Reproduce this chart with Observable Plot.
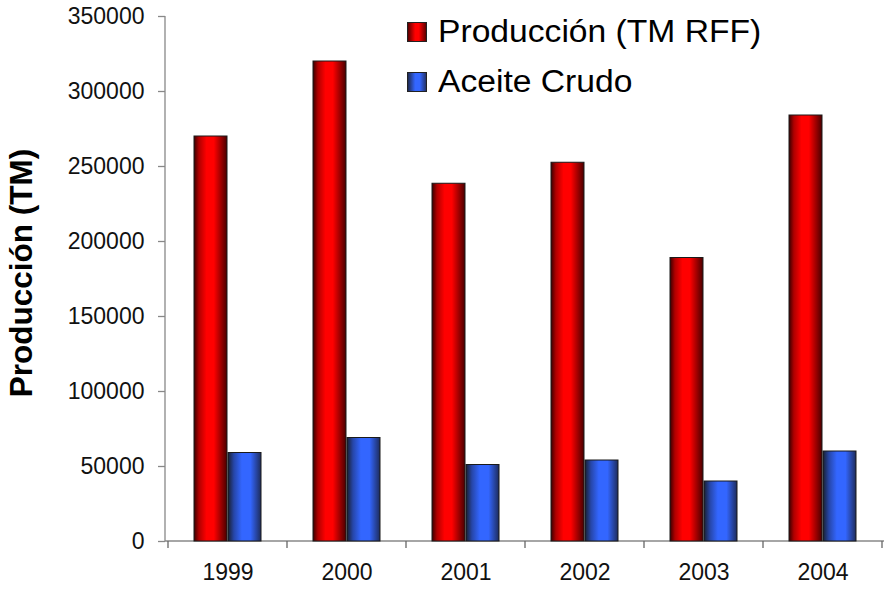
<!DOCTYPE html>
<html>
<head>
<meta charset="utf-8">
<script src="https://cdn.jsdelivr.net/npm/d3@7"></script>
<script src="https://cdn.jsdelivr.net/npm/@observablehq/plot@0.6"></script>
<style>
  body { margin: 0; background: #fff; }
  #wrap { position: relative; width: 886px; height: 590px; font-family: "Liberation Sans", Arial, sans-serif; }
  .sq { position: absolute; width: 20px; height: 20px; box-sizing: border-box; border: 1px solid #222; }
  .lt { position: absolute; font-size: 31px; line-height: 31px; color: #000; white-space: nowrap; transform: scaleX(1.085); transform-origin: left center; }
</style>
</head>
<body>
<div id="wrap"></div>
<script>
const years = ["1999", "2000", "2001", "2002", "2003", "2004"];
const produccion = [270000, 320000, 238500, 252500, 189000, 284000];
const aceite = [59000, 69000, 51000, 54000, 40000, 60000];
const seriesNames = ["Producción (TM RFF)", "Aceite Crudo"];
const yTicks = [0, 50000, 100000, 150000, 200000, 250000, 300000, 350000];
const yTitle = "Producción (TM)";

const rowsP = years.map((y, i) => ({year: y, value: produccion[i]}));
const rowsA = years.map((y, i) => ({year: y, value: aceite[i]}));

function decor(index, scales, values, dims) {
  const {x, y} = scales;
  const {width, marginLeft, marginRight} = dims;
  const g = d3.create("svg:g");
  const defs = g.append("defs");
  const gr = defs.append("linearGradient").attr("id", "gRed").attr("x1", 0).attr("x2", 1).attr("y1", 0).attr("y2", 0);
  [[0, "#3a0000"], [0.15, "#b00000"], [0.38, "#ff0000"], [0.6, "#ff0000"], [1, "#4a0000"]]
    .forEach(([o, c]) => gr.append("stop").attr("offset", o).attr("stop-color", c));
  const gb = defs.append("linearGradient").attr("id", "gBlue").attr("x1", 0).attr("x2", 1).attr("y1", 0).attr("y2", 0);
  [[0, "#1a2030"], [0.18, "#2646a8"], [0.42, "#3366ff"], [0.68, "#3366ff"], [1, "#1e2c5c"]]
    .forEach(([o, c]) => gb.append("stop").attr("offset", o).attr("stop-color", c));
  const y0 = y(0), yT = y(yTicks[yTicks.length - 1]);
  const xr = width - marginRight;
  g.append("line").attr("x1", marginLeft).attr("x2", marginLeft).attr("y1", yT).attr("y2", y0)
    .attr("stroke", "#888").attr("stroke-width", 1.3);
  g.append("line").attr("x1", marginLeft).attr("x2", xr).attr("y1", y0).attr("y2", y0)
    .attr("stroke", "#888").attr("stroke-width", 1.3);
  const bw = x.bandwidth ? x.bandwidth() : (xr - marginLeft) / years.length;
  const edges = years.map(d => x(d)).concat([x(years[years.length - 1]) + bw]);
  edges.forEach(e => g.append("line").attr("x1", e).attr("x2", e).attr("y1", y0).attr("y2", y0 + 7)
    .attr("stroke", "#666").attr("stroke-width", 1.3));
  return g.node();
}

const chart = Plot.plot({
  width: 886,
  height: 590,
  marginLeft: 165,
  marginRight: 2,
  marginTop: 16,
  marginBottom: 49,
  style: {fontFamily: "'Liberation Sans', Arial, sans-serif", fontSize: "23px", color: "#111", background: "#fff"},
  x: {type: "band", domain: years, padding: 0, label: null},
  y: {domain: [0, 350000], label: null},
  marks: [
    decor,
    Plot.barY(rowsP, {x: "year", y: "value", fill: "url(#gRed)", stroke: "#1a1a1a", strokeWidth: 1, insetLeft: 26, insetRight: 60}),
    Plot.barY(rowsA, {x: "year", y: "value", fill: "url(#gBlue)", stroke: "#1a1a1a", strokeWidth: 1, insetLeft: 60, insetRight: 26}),
    Plot.axisY({ticks: yTicks, tickSize: 7, tickPadding: 14, tickFormat: d => String(d), label: null, stroke: "#888", strokeWidth: 1.3, fontSize: 23}),
    Plot.axisX({tickSize: 0, tickPadding: 22, label: null, fontSize: 23}),
    Plot.text([yTitle], {frameAnchor: "left", textAnchor: "middle", rotate: -90, dx: -144, dy: -6, fontSize: 31.5, fontWeight: "bold", fill: "#000"})
  ]
});

const wrap = document.getElementById("wrap");
wrap.appendChild(chart);

const legend = [
  {name: seriesNames[0], bg: "linear-gradient(to right, #5a0000, #ff0000 40%, #ff0000 60%, #600000)", sqTop: 22, txtTop: 16},
  {name: seriesNames[1], bg: "linear-gradient(to right, #1e2a50, #3366ff 40%, #3366ff 65%, #24336a)", sqTop: 72, txtTop: 66}
];
legend.forEach(l => {
  const sq = document.createElement("div");
  sq.className = "sq";
  sq.style.left = "407px";
  sq.style.top = l.sqTop + "px";
  sq.style.background = l.bg;
  wrap.appendChild(sq);
  const t = document.createElement("div");
  t.className = "lt";
  t.style.left = "438px";
  t.style.top = l.txtTop + "px";
  t.textContent = l.name;
  wrap.appendChild(t);
});
</script>
</body>
</html>
